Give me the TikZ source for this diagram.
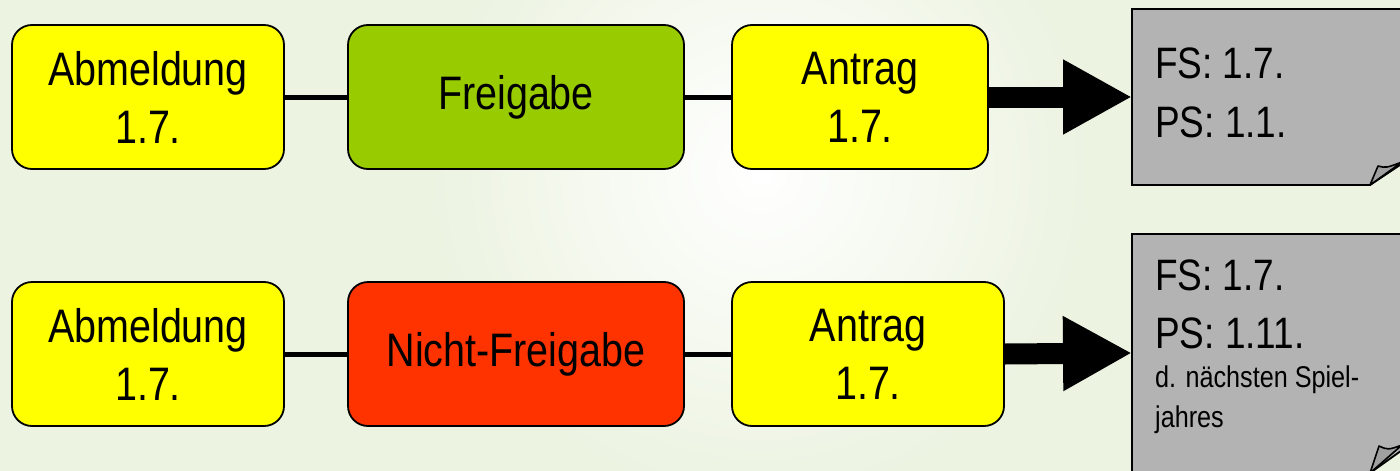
\documentclass[tikz,border=0pt]{standalone}
\usepackage{fontspec}
\setmainfont{Liberation Sans}[FakeStretch=0.84]
\usetikzlibrary{arrows.meta}
\definecolor{bgc}{RGB}{236,243,225}
\definecolor{boxyellow}{RGB}{255,255,0}
\definecolor{boxgreen}{RGB}{153,204,0}
\definecolor{boxred}{RGB}{255,51,0}
\definecolor{notegray}{RGB}{179,179,179}
\definecolor{foldgray}{RGB}{160,160,160}
\tikzset{
  stepbox/.style={draw=black, line width=1.8pt, rounded corners=20pt, inner sep=0pt,
    minimum height=144pt, align=center, font=\fontsize{47}{58}\selectfont},
  link/.style={draw=black, line width=5pt},
  bigarrow/.style={draw=black, line width=21pt, -{Triangle[length=69pt,width=70pt]}},
  notebox/.style={draw=black, line width=1.8pt, fill=notegray},
  notefold/.style={draw=black, line width=1.6pt, fill=foldgray, line join=round},
  notetext/.style={anchor=base west, inner sep=0pt, font=\fontsize{44}{58}\selectfont},
  smalltext/.style={anchor=base west, inner sep=0pt, font=\fontsize{30}{40}\selectfont},
}
\begin{document}
\begin{tikzpicture}[x=1pt,y=-1pt]
\useasboundingbox (0,0) rectangle (1400,471);
\fill[bgc] (0,0) rectangle (1400,471);
\shade[inner color=white, outer color=bgc] (760,170) circle[radius=330];

% row 1
\node[stepbox, fill=boxyellow, minimum width=272pt] (a1) at (148,97) {Abmeldung\\1.7.};
\node[stepbox, fill=boxgreen, minimum width=336pt] (f1) at (516,97) {Freigabe};
\node[stepbox, fill=boxyellow, minimum width=256pt] (t1) at (860,97) {Antrag\\1.7.};
\draw[link] (a1) -- (f1);
\draw[link] (f1) -- (t1);

% row 2
\node[stepbox, fill=boxyellow, minimum width=272pt] (a2) at (148,354) {Abmeldung\\1.7.};
\node[stepbox, fill=boxred, minimum width=336pt] (f2) at (516,354) {Nicht-Freigabe};
\node[stepbox, fill=boxyellow, minimum width=272pt] (t2) at (868,354) {Antrag\\1.7.};
\draw[link] (a2) -- (f2);
\draw[link] (f2) -- (t2);

% note 1
\draw[notebox] (1132,9) -- (1412,9) -- (1412,157) -- (1370,185) -- (1132,185) -- cycle;
\draw[notefold] (1370,185) -- (1378,166) .. controls (1386,168) .. (1402,162) -- cycle;
\coordinate (n1) at (1132,97);
\node[notetext] (n1a) at (1155,78) {FS: 1.7.};
\node[notetext] (n1b) at (1155,137) {PS: 1.1.};

% note 2
\draw[notebox] (1132,234) -- (1412,234) -- (1412,443) -- (1370,473) -- (1132,473) -- cycle;
\draw[notefold] (1370,473) -- (1379,446) .. controls (1388,450) .. (1402,445) -- cycle;
\coordinate (n2) at (1132,353);
\node[notetext] (n2a) at (1155,290) {FS: 1.7.};
\node[notetext] (n2b) at (1155,348) {PS: 1.11.};
\node[smalltext] (n2c) at (1155,387) {d. nächsten Spiel-};
\node[smalltext] (n2d) at (1155,427) {jahres};

% big arrows
\draw[bigarrow] (t1.east) -- (n1);
\draw[bigarrow] (t2.east) -- (n2);
\end{tikzpicture}
\end{document}
